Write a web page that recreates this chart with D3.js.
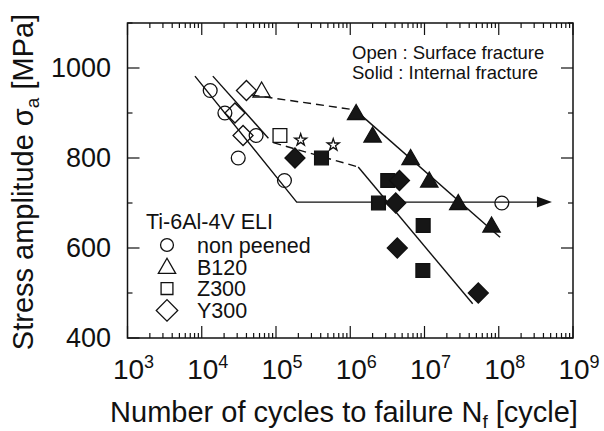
<!DOCTYPE html>
<html>
<head>
<meta charset="utf-8"/>
<title>S-N curves</title>
<script src="https://d3js.org/d3.v7.min.js"></script>
<style>
  body { margin: 0; background: #fff; }
  text { font-family: "Liberation Sans", Arial, sans-serif; fill: #111; }
</style>
</head>
<body>
<svg id="chart" width="604" height="431"></svg>
<script>
// data: [cycles, MPa]
var nonPeened = [[1.3e4, 950], [2.05e4, 900], [5.4e4, 850], [3.1e4, 800], [1.3e5, 750]];
var nonPeenedRunout = [[1.1e8, 700]];
var b120Open = [[6.4e4, 950]];
var b120Solid = [[1.2e6, 900], [2e6, 850], [6.5e6, 800], [1.16e7, 750], [2.85e7, 700], [8e7, 650]];
var z300Open = [[1.13e5, 850]];
var z300Solid = [[4.1e5, 800], [3.2e6, 750], [2.4e6, 700], [9.6e6, 650], [9.5e6, 550]];
var y300Open = [[4e4, 950], [2.8e4, 900], [3.6e4, 850]];
var y300Solid = [[1.8e5, 800], [4.6e6, 750], [4.1e6, 700], [4.3e6, 600], [5.3e7, 500]];
var stars = [[2.15e5, 840], [5.9e5, 829]];

// fitted lines
var lineNonPeened = [[8.1e3, 982], [1.9e5, 702], [4.2e8, 702]];
var lineY300 = [[1.41e4, 982], [7.9e4, 844]];
var lineB120 = [[1.16e6, 907], [1.04e8, 624]];
var lineInternal = [[1.28e6, 780], [4.46e7, 476]];
var dashUpper = [[4.7e4, 940], [1.16e6, 907]];
var dashLower = [[9.2e4, 834], [1.28e6, 780]];
var arrowTip = [5.2e8, 702];

var xTicks = [1e3, 1e4, 1e5, 1e6, 1e7, 1e8, 1e9];
var yTicks = [400, 600, 800, 1000];
var yMinor = [500, 700, 900, 1100];
var legendItems = ["non peened", "B120", "Z300", "Y300"];

var plotL = 127.5, plotR = 573, plotT = 23, plotB = 338;
var svg = d3.select("#chart");

var x = d3.scaleLog().domain([1e3, 1e9]).range([plotL, plotR]);
var y = d3.scaleLinear().domain([400, 1100]).range([plotB, plotT]);

// minor log ticks
var xMinor = [];
for (var e = 3; e < 9; e++) {
    for (var m = 2; m <= 9; m++) xMinor.push(m * Math.pow(10, e));
}

var g = svg.append("g").attr("stroke", "#111").attr("stroke-width", 1.2);

// ticks on all four sides, pointing in
xTicks.forEach(function(t) {
    g.append("line").attr("x1", x(t)).attr("x2", x(t)).attr("y1", plotB).attr("y2", plotB - 12);
    g.append("line").attr("x1", x(t)).attr("x2", x(t)).attr("y1", plotT).attr("y2", plotT + 12);
});
xMinor.forEach(function(t) {
    g.append("line").attr("x1", x(t)).attr("x2", x(t)).attr("y1", plotB).attr("y2", plotB - 5);
    g.append("line").attr("x1", x(t)).attr("x2", x(t)).attr("y1", plotT).attr("y2", plotT + 5);
});
yTicks.forEach(function(t) {
    g.append("line").attr("x1", plotL).attr("x2", plotL + 12).attr("y1", y(t)).attr("y2", y(t));
    g.append("line").attr("x1", plotR).attr("x2", plotR - 12).attr("y1", y(t)).attr("y2", y(t));
});
yMinor.forEach(function(t) {
    g.append("line").attr("x1", plotL).attr("x2", plotL + 5).attr("y1", y(t)).attr("y2", y(t));
    g.append("line").attr("x1", plotR).attr("x2", plotR - 5).attr("y1", y(t)).attr("y2", y(t));
});

svg.append("rect")
    .attr("x", plotL).attr("y", plotT)
    .attr("width", plotR - plotL).attr("height", plotB - plotT)
    .attr("fill", "none").attr("stroke", "#111").attr("stroke-width", 1.5);

// tick labels
yTicks.forEach(function(t) {
    svg.append("text").attr("x", 111).attr("y", y(t)).attr("dy", "0.35em")
        .attr("text-anchor", "end").attr("font-size", 27).text(t);
});
xTicks.forEach(function(t) {
    var lab = svg.append("text").attr("x", x(t) + 6).attr("y", 379)
        .attr("text-anchor", "middle").attr("font-size", 28);
    lab.append("tspan").text("10");
    lab.append("tspan").attr("font-size", 18).attr("dy", -11).text(Math.round(Math.log10(t)));
});

// axis titles
var xt = svg.append("text").attr("x", 344).attr("y", 422).attr("text-anchor", "middle").attr("font-size", 29);
xt.append("tspan").text("Number of cycles to failure N");
xt.append("tspan").attr("font-size", 19).attr("dy", 6).text("f");
xt.append("tspan").attr("dy", -6).text(" [cycle]");

var yt = svg.append("text").attr("transform", "translate(33,182) rotate(-90)")
    .attr("text-anchor", "middle").attr("font-size", 29);
yt.append("tspan").text("Stress amplitude σ");
yt.append("tspan").attr("font-size", 19).attr("dy", 6).text("a");
yt.append("tspan").attr("dy", -6).text(" [MPa]");

// lines
var line = d3.line().x(function(d) { return x(d[0]); }).y(function(d) { return y(d[1]); });
var lines = svg.append("g").attr("fill", "none").attr("stroke", "#111").attr("stroke-width", 1.4);
[lineNonPeened, lineY300, lineB120, lineInternal].forEach(function(l) {
    lines.append("path").attr("d", line(l));
});
[dashUpper, dashLower].forEach(function(l) {
    lines.append("path").attr("d", line(l)).attr("stroke-dasharray", "8,5");
});
// run-out arrow
var ax = x(arrowTip[0]), ay = y(arrowTip[1]);
svg.append("path")
    .attr("d", "M" + ax + "," + ay + "L" + (ax - 15) + "," + (ay - 5.5) + "L" + (ax - 15) + "," + (ay + 5.5) + "Z")
    .attr("fill", "#111");

// markers (diamond = square turned 45 degrees)
var shapes = {
    circle: { sym: d3.symbol().type(d3.symbolCircle).size(150), rot: 0, dy: 0 },
    triangle: { sym: d3.symbol().type(d3.symbolTriangle).size(130), rot: 0, dy: 1.5 },
    square: { sym: d3.symbol().type(d3.symbolSquare).size(190), rot: 0, dy: 0 },
    diamond: { sym: d3.symbol().type(d3.symbolSquare).size(200), rot: 45, dy: 0 },
    star: { sym: d3.symbol().type(d3.symbolStar).size(45), rot: 0, dy: 0 }
};

function drawPoints(data, shape, filled) {
    var s = shapes[shape];
    svg.append("g").selectAll("path")
        .data(data)
        .enter().append("path")
        .attr("transform", function(d) {
            return "translate(" + x(d[0]) + "," + (y(d[1]) + s.dy) + ") rotate(" + s.rot + ")";
        })
        .attr("d", s.sym())
        .attr("fill", filled ? "#161616" : "none")
        .attr("stroke", "#111")
        .attr("stroke-width", 1.3);
}

drawPoints(nonPeened, "circle", false);
drawPoints(nonPeenedRunout, "circle", false);
drawPoints(b120Open, "triangle", false);
drawPoints(b120Solid, "triangle", true);
drawPoints(z300Open, "square", false);
drawPoints(z300Solid, "square", true);
drawPoints(y300Open, "diamond", false);
drawPoints(y300Solid, "diamond", true);
drawPoints(stars, "star", false);

// notes
svg.append("text").attr("x", 352).attr("y", 59).attr("font-size", 18.5).text("Open : Surface fracture");
svg.append("text").attr("x", 352).attr("y", 79).attr("font-size", 18.5).text("Solid : Internal fracture");

// legend
svg.append("text").attr("x", 146).attr("y", 229).attr("font-size", 21.5).text("Ti-6Al-4V ELI");
var legendShapes = ["circle", "triangle", "square", "diamond"];
var legendSizes = [130, 130, 140, 230];
legendItems.forEach(function(name, i) {
    var ly = 245 + i * 21.8;
    var s = shapes[legendShapes[i]];
    svg.append("path")
        .attr("transform", "translate(167," + (ly + s.dy) + ") rotate(" + s.rot + ")")
        .attr("d", s.sym.size(legendSizes[i])())
        .attr("fill", "none").attr("stroke", "#111").attr("stroke-width", 1.3);
    svg.append("text").attr("x", 197).attr("y", ly).attr("dy", "0.36em")
        .attr("font-size", 21.5).text(name);
});
</script>
</body>
</html>
